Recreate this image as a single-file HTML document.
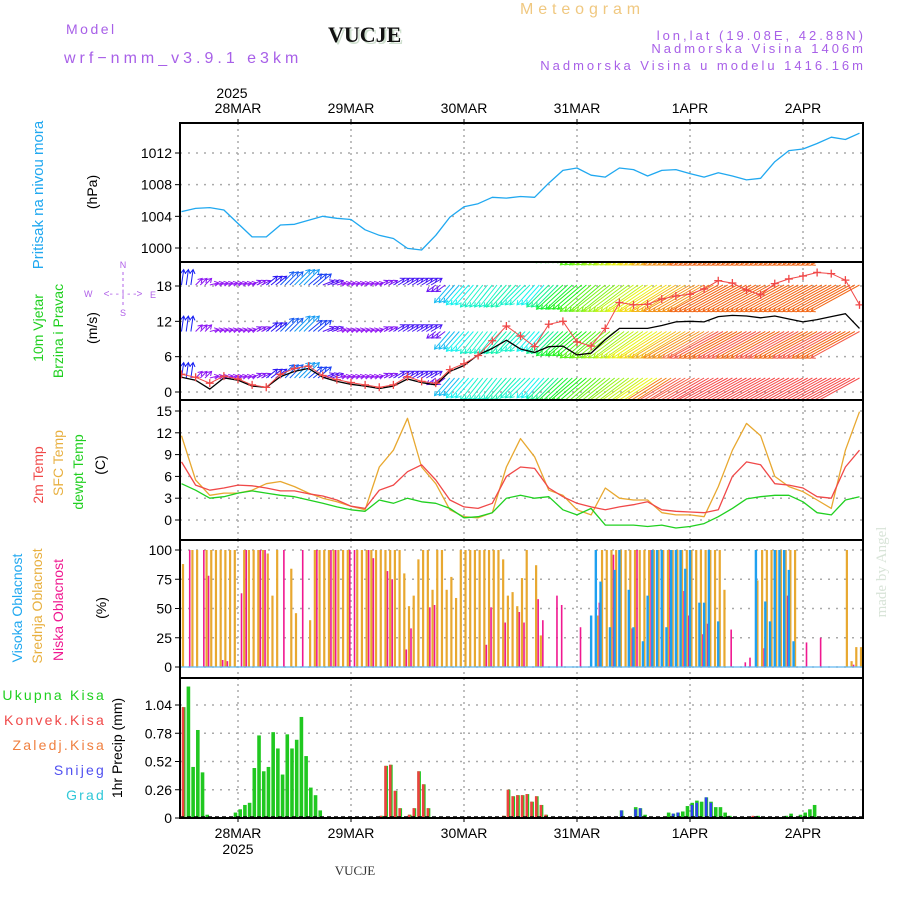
<!DOCTYPE html>
<html><head><meta charset="utf-8"><title>Meteogram VUCJE</title>
<style>
html,body{margin:0;padding:0;background:#fff;}
svg{display:block;}
text{font-family:"Liberation Sans",sans-serif;}
</style></head>
<body>
<svg id="chart" width="900" height="900" viewBox="0 0 900 900" xmlns="http://www.w3.org/2000/svg">
<defs>
<clipPath id="clipWind"><rect x="180" y="262" width="683" height="138"/></clipPath>
<clipPath id="clipAll"><rect x="180" y="123" width="683" height="695"/></clipPath>
</defs>
<g>
<text x="66" y="34" font-size="14" fill="#a860e8" letter-spacing="2.5">Model</text>
<text x="64" y="63" font-size="16" fill="#a860e8" letter-spacing="4">wrf−nmm_v3.9.1 e3km</text>
<text x="330" y="44" font-size="22" font-weight="bold" fill="#cfe0cf" style="font-family:'Liberation Serif',serif">VUCJE</text>
<text x="328" y="42" font-size="22" font-weight="bold" fill="#111" style="font-family:'Liberation Serif',serif">VUCJE</text>
<text x="520" y="14" font-size="16" fill="#f0c880" letter-spacing="4.9">Meteogram</text>
<text x="866" y="40" font-size="13" fill="#a860e8" text-anchor="end" letter-spacing="3">lon,lat (19.08E, 42.88N)</text>
<text x="866" y="53" font-size="13" fill="#a860e8" text-anchor="end" letter-spacing="3">Nadmorska Visina 1406m</text>
<text x="866" y="70" font-size="13" fill="#a860e8" text-anchor="end" letter-spacing="3">Nadmorska Visina u modelu 1416.16m</text>
</g>
<g id="grid"></g>
<g id="marks" clip-path="url(#clipAll)"></g>
<g id="windMarks" clip-path="url(#clipWind)"></g>
<g id="frames"></g>
<g id="labels">
<text transform="translate(43,195) rotate(-90)" font-size="15" fill="#20a8f0" text-anchor="middle">Pritisak na nivou mora</text>
<text transform="translate(97,192) rotate(-90)" font-size="14" fill="#000" text-anchor="middle">(hPa)</text>
<text transform="translate(43,328) rotate(-90)" font-size="14" fill="#20d020" text-anchor="middle">10m Vjetar</text>
<text transform="translate(63,331) rotate(-90)" font-size="14" fill="#20d020" text-anchor="middle">Brzina i Pravac</text>
<text transform="translate(97,328) rotate(-90)" font-size="14" fill="#000" text-anchor="middle">(m/s)</text>
<g fill="#b060e8" font-size="9">
<text x="123" y="268" text-anchor="middle">N</text>
<text x="123" y="316" text-anchor="middle">S</text>
<text x="84" y="297">W</text>
<text x="150" y="298">E</text>
<text x="123" y="297" text-anchor="middle" font-size="10">&lt;- - | - -&gt;</text>
<line x1="123" y1="272" x2="123" y2="306" stroke="#b060e8" stroke-dasharray="3,3"/>
</g>
<text transform="translate(43,475) rotate(-90)" font-size="14" fill="#f04848" text-anchor="middle">2m Temp</text>
<text transform="translate(63,463) rotate(-90)" font-size="14" fill="#e8b040" text-anchor="middle">SFC Temp</text>
<text transform="translate(83,472) rotate(-90)" font-size="14" fill="#20d020" text-anchor="middle">dewpt Temp</text>
<text transform="translate(105,465) rotate(-90)" font-size="14" fill="#000" text-anchor="middle">(C)</text>
<text transform="translate(22,608) rotate(-90)" font-size="14" fill="#20a8f0" text-anchor="middle">Visoka Oblacnost</text>
<text transform="translate(42,606) rotate(-90)" font-size="14" fill="#e8b040" text-anchor="middle">Srednja Oblacnost</text>
<text transform="translate(63,610) rotate(-90)" font-size="14" fill="#f01890" text-anchor="middle">Niska Oblacnost</text>
<text transform="translate(106,608) rotate(-90)" font-size="14" fill="#000" text-anchor="middle">(%)</text>
<text x="106" y="700" font-size="14" fill="#20d020" text-anchor="end" letter-spacing="2.2">Ukupna  Kisa</text>
<text x="106" y="725" font-size="14" fill="#f04848" text-anchor="end" letter-spacing="2.2">Konvek.Kisa</text>
<text x="106" y="750" font-size="14" fill="#f08040" text-anchor="end" letter-spacing="2.2">Zaledj.Kisa</text>
<text x="106" y="775" font-size="14" fill="#5050f0" text-anchor="end" letter-spacing="2.2">Snijeg</text>
<text x="106" y="800" font-size="14" fill="#30c8d8" text-anchor="end" letter-spacing="2.2">Grad</text>
<text transform="translate(122,748) rotate(-90)" font-size="14" fill="#000" text-anchor="middle">1hr Precip (mm)</text>
<text transform="translate(886,572) rotate(-90)" font-size="15" fill="#d8e4d8" text-anchor="middle" style="font-family:'Liberation Serif',serif">made by Angel</text>
<text x="232" y="98" font-size="14" fill="#000" text-anchor="middle">2025</text>
<text x="238" y="854" font-size="14" fill="#000" text-anchor="middle">2025</text>
<text x="355" y="875" font-size="13" fill="#333" text-anchor="middle" style="font-family:'Liberation Serif',serif">VUCJE</text>
</g>
<script>
// ---- data (3-hourly, starting 27MAR 12Z) ----
const dayLabels = ["28MAR","29MAR","30MAR","31MAR","1APR","2APR"];
const pressure = [1004.6,1005.0,1005.1,1004.8,1003.1,1001.4,1001.4,1002.9,1003.0,1003.5,1004.0,1003.75,1003.6,1002.3,1001.6,1001.2,999.95,999.75,1001.6,1003.9,1005.2,1005.6,1006.4,1006.3,1006.5,1006.4,1008.2,1009.8,1010.1,1009.2,1008.95,1010.1,1009.9,1009.1,1009.8,1009.9,1009.4,1008.95,1009.5,1009.1,1008.6,1008.8,1010.9,1012.3,1012.5,1013.2,1014.0,1013.7,1014.5];
const temp2m = [8.0,4.8,4.1,4.4,4.8,4.7,4.4,4.0,4.0,3.6,3.3,2.75,1.9,1.6,4.1,4.8,6.65,7.6,5.5,2.75,1.8,1.6,2.3,6.0,7.3,7.1,4.4,3.2,2.3,1.8,1.4,1.8,2.1,2.5,1.4,1.2,1.1,1.0,1.4,6.0,8.0,7.6,5.0,4.8,4.4,3.2,3.0,7.3,9.6];
const tempSfc = [11.6,5.5,3.4,3.7,3.7,4.1,5.0,5.3,4.6,3.7,3.0,2.5,1.9,1.4,7.3,9.6,14.0,7.3,5.0,1.4,0.45,0.3,1.0,7.3,11.2,8.7,4.1,3.4,1.4,0.7,4.4,3.0,2.75,2.75,1.0,0.7,0.7,0.45,4.6,9.6,13.3,11.6,6.0,4.6,3.9,2.75,1.6,9.6,14.9];
const dewpoint = [5.0,4.1,3.0,3.2,3.7,4.0,3.7,3.4,3.2,2.75,2.3,1.8,1.4,1.2,2.75,2.3,3.0,2.5,2.3,1.6,0.3,0.45,1.0,3.0,3.4,3.0,3.2,1.4,0.7,1.6,-0.7,-0.7,-0.7,-0.9,-0.7,-1.1,-0.9,-0.5,0.45,1.6,2.9,3.2,3.4,3.4,2.5,1.0,0.7,2.75,3.2];
const windSpeed = [3.0,2.5,1.5,2.7,2.2,1.2,0.8,3.0,4.0,4.4,2.8,2.1,1.6,1.2,0.8,1.2,2.6,1.8,1.5,3.8,4.8,6.2,8.7,11.2,9.5,7.7,11.5,12.0,8.5,7.8,10.8,15.2,14.8,14.9,15.8,16.3,16.6,17.5,18.9,18.5,17.3,16.5,18.4,19.2,19.7,20.3,20.1,19.0,14.8];
const windSpeed2 = [2.5,2.0,0.5,2.4,2.0,1.0,0.8,2.6,3.5,4.0,2.5,1.8,1.3,1.0,0.6,1.0,2.2,1.6,1.2,3.5,4.5,6.3,7.4,8.8,7.3,6.7,7.7,7.8,6.3,6.6,8.9,10.8,10.8,10.8,11.3,11.9,12.0,11.9,12.8,13.0,12.9,12.6,12.9,12.4,11.9,12.3,12.8,13.3,10.8];
const windU = [1,3,4,4,4,4,5,6,7,6,5,4,4,4,4,5,5,5,-4,-7,-8,-8,-8,-9,-9,-8,-10,-12,-13,-14,-15,-16,-17,-18,-19,-20,-21,-21,-22,-22,-22,-22,-22,-22,-22,-22,-22,-22,-22];
const windV = [7,3,1,1,1,2,4,6,7,5,2,1,1,1,2,3,3,3,-3,-8,-9,-10,-10,-10,-9,-9,-10,-11,-11,-12,-12,-12,-12,-12,-12,-12,-12,-12,-12,-12,-12,-12,-12,-12,-12,-12,-12,-12,-12];
// cloud cover (hourly, sparse: hour index + %)
const midHours = [0,2,3,5,6,7,8,9,10,11,13,14,15,16,17,18,19,20,23,24,27,28,29,30,31,32,33,34,35,37,38,39,40,41,42,43,44,45,46,47,48,49,50,51,52,53,54,55,56,57,58,59,60,61,62,63,64,65,66,67,68,69,70,71,72,73,75,76,88,89,90,91,92,93,94,95,96,97,98,99,100,101,102,103,104,105,106,107,108,109,110,111,112,113,114,115,122,123,124,125,126,127,128,129,130,141,142,143,144];
const midVals = [88,100,100,100,100,100,100,100,100,100,100,100,100,100,100,97,61,100,84,46,40,100,100,100,100,100,100,100,100,100,100,100,100,100,100,100,100,100,100,80,52,61,92,100,100,66,100,100,66,77,59,100,100,100,100,100,100,100,100,100,92,61,64,52,76,100,87,27,44,100,100,100,100,100,100,100,100,100,100,100,100,100,100,100,100,100,100,100,100,100,100,100,100,100,100,66,74,100,100,100,100,100,100,100,100,100,5,17,17];
const lowHours = [2,5,6,9,10,13,14,17,18,22,26,29,32,33,36,37,40,41,44,45,48,49,53,54,65,66,69,72,73,76,77,80,81,85,89,92,96,97,100,104,107,108,111,112,117,120,121,124,129,133,136,143];
const lowVals = [100,100,78,6,5,63,100,100,100,100,100,100,100,100,100,100,100,93,82,75,15,33,51,53,19,51,38,47,38,58,40,61,53,34,55,96,33,100,100,100,65,44,28,37,32,4,8,16,61,21,25,2];
const highHours = [87,88,89,91,92,93,95,96,98,99,100,101,102,103,104,105,106,107,108,110,111,112,114,122,124,125,126,127,128,129,130];
const highVals = [44,100,73,34,83,100,66,34,22,61,100,100,100,34,100,100,100,84,100,55,55,100,39,100,56,39,100,100,100,83,22];
// precipitation (hourly, sparse)
const precipHours = [0,1,2,3,4,5,11,12,13,14,15,16,17,18,19,20,21,22,23,24,25,26,27,28,29,42,43,44,45,46,48,49,50,51,52,68,69,70,71,72,73,74,75,76,77,93,96,97,98,103,104,105,106,107,108,109,110,111,112,113,114,115,116,122,128,129,130,131,132,133,134,135];
const precipTotal = [1.02,1.21,0.47,0.81,0.42,0.03,0.05,0.08,0.12,0.14,0.46,0.76,0.43,0.47,0.79,0.64,0.40,0.77,0.64,0.72,0.93,0.57,0.28,0.21,0.07,0.02,0.48,0.49,0.25,0.09,0.03,0.09,0.43,0.31,0.09,0.02,0.26,0.20,0.21,0.21,0.22,0.15,0.20,0.12,0.03,0.07,0.10,0.09,0.03,0.05,0.04,0.05,0.06,0.11,0.14,0.16,0.15,0.19,0.15,0.10,0.10,0.05,0.02,0.02,0.02,0.04,0.01,0.03,0.05,0.08,0.12,0.01,0.01];
const convHours = [0,42,43,44,45,46,48,49,50,51,52,68,69,70,71,72,73,74,75,76,77,121];
const convVals = [1.02,0.02,0.48,0.49,0.25,0.09,0.03,0.09,0.43,0.31,0.09,0.02,0.26,0.20,0.21,0.21,0.22,0.15,0.20,0.12,0.03,0.02];
const snowHours = [93,96,97,104,105,108,109,111,112];
const snowVals = [0.07,0.08,0.09,0.04,0.05,0.12,0.14,0.19,0.14];
const pTicks = [1000,1004,1008,1012];
const wTicks = [0,6,12,18];
const tTicks = [0,3,6,9,12,15];
const cTicks = [0,25,50,75,100];
const rTicks = [0,0.26,0.52,0.78,1.04];

// ---- axes ----
const NS = "http://www.w3.org/2000/svg";
const X = h => 181.5 + h * 113 / 24;
const yP = p => 248 - (p - 1000) * 95 / 12;
const yW = v => 392 - v * 106 / 18;
const yT = t => 520 - t * 109 / 15;
const yC = c => 667 - c * 117 / 100;
const yR = r => 818 - r * 113 / 1.04;
const panels = [[123,262],[262,400],[400,540],[540,678],[678,818]];

function mk(tag, attrs, parent){ const e=document.createElementNS(NS,tag); for(const k in attrs) e.setAttribute(k,attrs[k]); parent.appendChild(e); return e; }
const grid=document.getElementById('grid'), marks=document.getElementById('marks'), wm=document.getElementById('windMarks'), frames=document.getElementById('frames'), labels=document.getElementById('labels');

dayLabels.forEach((d,i)=>{
  const x = X(12 + 24*i);
  panels.forEach(p=>{
    const l=mk('line',{x1:x,y1:p[0],x2:x,y2:p[1],stroke:'#aaa','stroke-width':1.5,'stroke-dasharray':'2,4'},grid);
    
    
  });
  const t1=mk('text',{x:x,y:113,'font-size':14,'text-anchor':'middle',fill:'#000'},labels); t1.textContent=d;
  
  
  const t2=mk('text',{x:x,y:838,'font-size':14,'text-anchor':'middle',fill:'#000'},labels); t2.textContent=d;
  
  
  mk('line',{x1:x,y1:119,x2:x,y2:123,stroke:'#000'},frames);
  mk('line',{x1:x,y1:818,x2:x,y2:822,stroke:'#000'},frames);
});
function yAxis(ticks, fy, fmt){
  ticks.forEach(v=>{
    const y=fy(v);
    const g=mk('line',{x1:180,y1:y,x2:863,y2:y,stroke:'#aaa','stroke-width':1.5,'stroke-dasharray':'2,6'},grid);
    
    
    mk('line',{x1:175,y1:y,x2:180,y2:y,stroke:'#000'},frames);
    const t=mk('text',{x:172,y:y+5,'font-size':14,'text-anchor':'end',fill:'#000'},labels); t.textContent=fmt(v);
    
    
  });
}
yAxis(pTicks,yP,v=>String(v));
yAxis(wTicks,yW,v=>String(v));
yAxis(tTicks,yT,v=>String(v));
yAxis(cTicks,yC,v=>String(v));
yAxis(rTicks,yR,v=>v===0?'0':v.toFixed(2));
panels.forEach(p=>{
  const r=mk('rect',{x:180,y:p[0],width:683,height:p[1]-p[0],fill:'none',stroke:'#000','stroke-width':2},frames);
  
  
});

function line(arr, fy, color, name, w){
  const pts=arr.map((v,k)=>X(3*k).toFixed(1)+','+fy(v).toFixed(1)).join(' ');
  const pl=mk('polyline',{points:pts,fill:'none',stroke:color,'stroke-width':w||1.3,'stroke-linejoin':'round'},marks);
  
  
}
line(pressure,yP,'#20a8f0','pressure-line');
line(tempSfc,yT,'#e8a830','sfc-temp-line');
line(temp2m,yT,'#f04848','temp-2m-line');
line(dewpoint,yT,'#20d020','dewpoint-line');

function bars(hours, vals, fy, base, color, dx, w, name){
  hours.forEach((h,i)=>{
    const y=fy(vals[i]);
    const r=mk('rect',{x:X(h)+dx-w/2,y:y,width:w,height:Math.max(0,base-y),fill:color},marks);
    
    
  });
}
bars(midHours,midVals,yC,667,'#e8a830',1.5,2.2,'mid-cloud-bar');
bars(lowHours,lowVals,yC,667,'#f01890',-1.2,1.6,'low-cloud-bar');
bars(highHours,highVals,yC,667,'#1ea0f0',0,2.4,'high-cloud-bar');
mk('line',{x1:180,y1:667,x2:863,y2:667,stroke:'#60b8f0','stroke-width':1.2},marks);

bars(precipHours,precipTotal,yR,818,'#20c820',2.2,3.6,'total-precip-bar');
bars(convHours,convVals,yR,818,'#f04040',1.6,2.6,'convective-precip-bar');
bars(snowHours,snowVals,yR,818,'#3040f0',2.0,2.6,'snow-bar');
mk('line',{x1:180,y1:817,x2:863,y2:817,stroke:'#000','stroke-width':1.5,'stroke-dasharray':'4,3'},marks);

// wind arrows
const rows=[238.5,285,331.5,378];
windU.forEach((u,k)=>{
  const v=windV[k];
  const sp=Math.sqrt(u*u+v*v);
  for(let j=0;j<3;j++){
    const h=3*k+j; if(h>144) break;
    rows.forEach((yb,ri)=>{
      let hue=Math.max(0,Math.min(275,275-(sp-4)*12));
      if(ri===3 && hue<60) hue=Math.max(0,hue-25-(h%6<3?0:10));
      if(ri===2 && hue<40) hue=Math.max(0,hue-(h%8<4?15:0));
      const col='hsl('+hue.toFixed(0)+',90%,'+(hue<20?'62%':'52%')+')';
      const dx=u*2.2, dy=-v*2.2, L=Math.max(1,Math.hypot(dx,dy));
      const ux=dx/L, uy=dy/L;
      const x0=X(h), x1=x0+dx, y1=yb+dy;
      const a=mk('path',{d:'M'+x0.toFixed(1)+','+yb+' L'+x1.toFixed(1)+','+y1.toFixed(1)+
        ' M'+(x1-4*ux-2.5*uy).toFixed(1)+','+(y1-4*uy+2.5*ux).toFixed(1)+' L'+x1.toFixed(1)+','+y1.toFixed(1)+
        ' L'+(x1-4*ux+2.5*uy).toFixed(1)+','+(y1-4*uy-2.5*ux).toFixed(1),
        fill:'none',stroke:col,'stroke-width':1},wm);
      
      
    });
  }
});
const bl=mk('polyline',{points:windSpeed2.map((v,k)=>X(3*k).toFixed(1)+','+yW(v).toFixed(1)).join(' '),fill:'none',stroke:'#000','stroke-width':1.3},wm);


const rl=mk('polyline',{points:windSpeed.map((v,k)=>X(3*k).toFixed(1)+','+yW(v).toFixed(1)).join(' '),fill:'none',stroke:'#f04848','stroke-width':1},wm);


windSpeed.forEach((v,k)=>{
  const x=X(3*k), y=yW(v);
  const c=mk('path',{d:'M'+(x-4)+','+y+' H'+(x+4)+' M'+x+','+(y-4)+' V'+(y+4),stroke:'#f04848','stroke-width':1.3},wm);
  
  
});
</script>
</svg>
</body></html>
